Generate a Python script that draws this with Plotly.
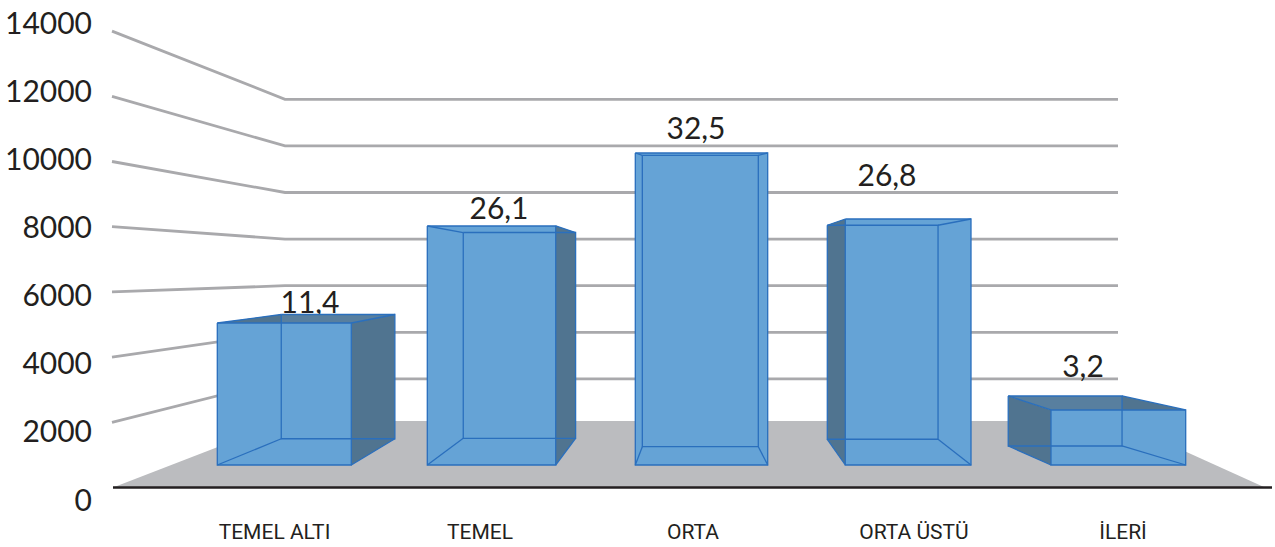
import plotly.graph_objects as go

# ---- data ----
categories = ["TEMEL ALTI", "TEMEL", "ORTA", "ORTA ÜSTÜ", "İLERİ"]
bar_values = [4835, 8138, 10623, 8376, 1873]
bar_labels = ["11,4", "26,1", "32,5", "26,8", "3,2"]
axis_ticks = [0, 2000, 4000, 6000, 8000, 10000, 12000, 14000]

# ---- layout geometry (pixels of the 1275x547 page) ----
W, H, ML, MB = 1275, 547, 100, 30
PLOT_H = H - MB
FRONT_ZERO, FRONT_STEP = 487.5, 0.0326   # wall front edge
BACK_ZERO, BACK_STEP = 425.5, 0.0233     # wall back edge
WALL_X = (112, 285, 1118)
FLOOR_X = (113, 1265, 1118, 285)
FLOOR_BACK_PX = 421
BASE_RIGHT = 1272
BAR_BOTTOM_PX, BAR_STEP = 465.0, 0.02937
BAR_LEFT = [217.3, 427.3, 635.3, 845.3, 1051.0]
BAR_RIGHT = [351.3, 555.7, 767.7, 971.0, 1185.7]
# per-bar perspective: x scale, x vanishing, y scale, y vanishing
BAR_CAM = [(.848, 638, .875, 255), (.875, 715, .861, 273), (.876, 692, .934, 188),
           (.881, 694, .870, 267), (.845, 775, .909, 256)]
LABEL_X = [310, 499, 696, 887, 1083]
LABEL_Y_PX = [305, 211, 131, 178, 369]
CAT_X = [274.5, 480, 693, 914, 1123]
LEFT_LABEL_ZERO_PX, LEFT_LABEL_STEP = 500.0, 0.03407

C_FRONT, C_SIDE, C_TOP = "#65a3d6", "#507490", "#587f9f"
C_EDGE, C_FLOOR, C_GRID, C_TEXT = "#2a6fbd", "#bbbcbf", "#a9a9ac", "#231f20"
FONT = "Lato"
CAT_FONT = "Roboto"


def val(px):
    """Page pixel row -> value on the main (front wall) axis."""
    return (FRONT_ZERO - px) / FRONT_STEP


fig = go.Figure()


def poly(xs, ys_px, fill=None, color=None, width=1.3):
    fig.add_trace(go.Scatter(
        x=list(xs), y=[val(p) for p in ys_px], mode="lines",
        fill="toself" if fill else None, fillcolor=fill,
        line=dict(color=color or fill, width=width if color else 0),
        hoverinfo="skip", showlegend=False))


# floor, wall / back gridlines
poly(FLOOR_X, [FRONT_ZERO, FRONT_ZERO, FLOOR_BACK_PX, FLOOR_BACK_PX], fill=C_FLOOR)
for v in axis_ticks[1:]:
    f = FRONT_ZERO - FRONT_STEP * v
    b = BACK_ZERO - BACK_STEP * v
    poly(WALL_X, [f, b, b], color=C_GRID, width=2.8)
poly((113, BASE_RIGHT), (FRONT_ZERO, FRONT_ZERO), color=C_TEXT, width=2.6)

# value labels sit behind the bars
fig.add_trace(go.Scatter(
    x=LABEL_X, y=[val(p) for p in LABEL_Y_PX], text=bar_labels, mode="text",
    textposition="middle center", textfont=dict(family=FONT, size=30, color=C_TEXT),
    hoverinfo="skip", showlegend=False))

# bars in perspective, computed from the values
for value, xl, xr, (sx, vx, sy, vy) in zip(bar_values, BAR_LEFT, BAR_RIGHT, BAR_CAM):
    yb = BAR_BOTTOM_PX
    yt = yb - BAR_STEP * value
    bx = lambda x: vx + (x - vx) * sx
    by = lambda y: vy + (y - vy) * sy
    xlb, xrb, ytb, ybb = bx(xl), bx(xr), by(yt), by(yb)
    # top, sides
    poly((xl, xr, xrb, xlb), (yt, yt, ytb, ytb), fill=C_TOP)
    poly((xl, xlb, xlb, xl), (yt, ytb, ybb, yb), fill=C_SIDE)
    poly((xr, xrb, xrb, xr), (yt, ytb, ybb, yb), fill=C_SIDE)
    # front
    poly((xl, xr, xr, xl), (yt, yt, yb, yb), fill=C_FRONT)
    # wireframe
    poly((xl, xr, xr, xl, xl), (yt, yt, yb, yb, yt), color=C_EDGE)
    poly((xlb, xrb, xrb, xlb, xlb), (ytb, ytb, ybb, ybb, ytb), color=C_EDGE)
    for a, b, c, d in ((xl, xlb, yt, ytb), (xr, xrb, yt, ytb), (xl, xlb, yb, ybb), (xr, xrb, yb, ybb)):
        poly((a, b), (c, d), color=C_EDGE)

# invisible trace that carries the labelled value axis
fig.add_trace(go.Scatter(x=[ML + 1] * len(axis_ticks), y=axis_ticks, yaxis="y2", mode="markers",
                         marker=dict(opacity=0), hoverinfo="skip", showlegend=False))

fig.update_layout(
    width=W, height=H,
    margin=dict(l=ML, r=0, t=0, b=MB),
    paper_bgcolor="white", plot_bgcolor="white", showlegend=False,
    xaxis=dict(range=[ML, W], showgrid=False, zeroline=False, showline=False, ticks="",
               automargin=False,
               tickmode="array", tickvals=CAT_X, ticktext=categories,
               tickfont=dict(family=CAT_FONT, size=21, color=C_TEXT)),
    yaxis=dict(range=[val(PLOT_H), val(0)], visible=False, automargin=False),
    yaxis2=dict(overlaying="y", side="left", automargin=False, ticklabeloverflow="allow",
                range=[(LEFT_LABEL_ZERO_PX - PLOT_H) / LEFT_LABEL_STEP,
                       LEFT_LABEL_ZERO_PX / LEFT_LABEL_STEP],
                tickmode="array", tickvals=axis_ticks, tickformat="d",
                showgrid=False, zeroline=False, showline=False,
                ticks="outside", ticklen=1, tickcolor="rgba(0,0,0,0)",
                tickfont=dict(family=FONT, size=30, color=C_TEXT)),
)
fig.write_html("out.html", config=dict(displayModeBar=False),
               post_script="document.body.style.margin='0';document.body.style.overflow='hidden';")
